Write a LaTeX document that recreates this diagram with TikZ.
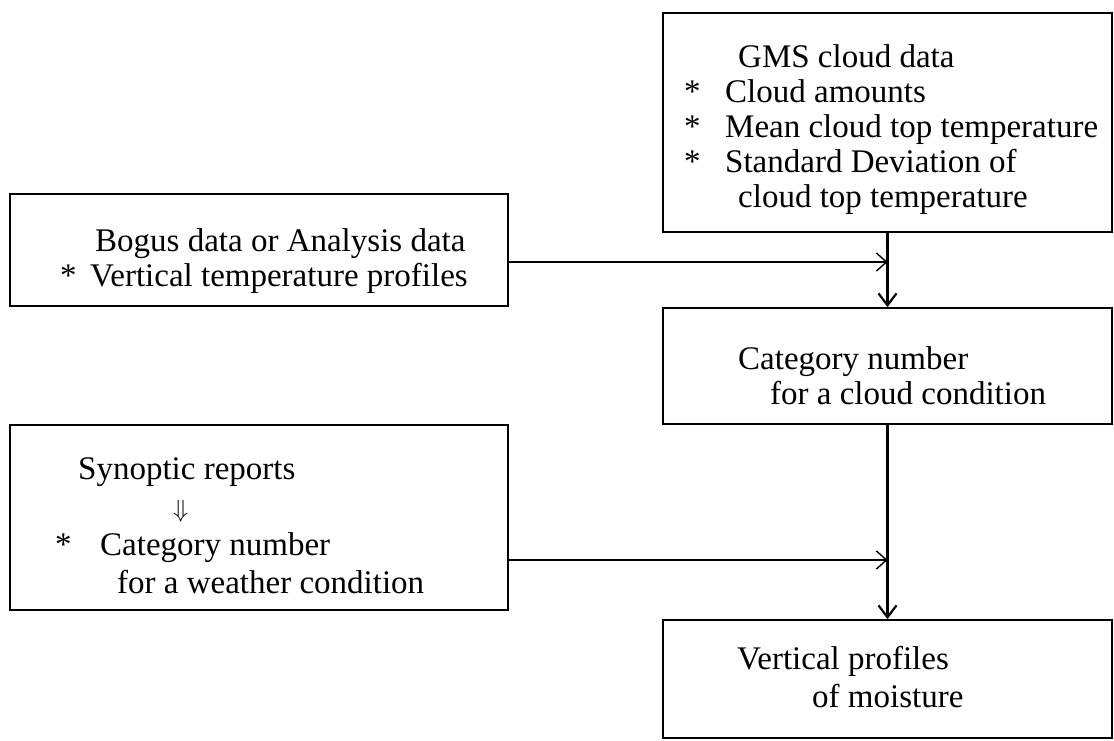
\documentclass[tikz,border=0pt]{standalone}
\usepackage{fontspec}
\setmainfont{Liberation Serif}
\usetikzlibrary{arrows.meta}

\begin{document}
\begin{tikzpicture}[x=1pt,y=-1pt,font=\fontsize{33}{35}\selectfont,
  box/.style={draw,line width=1.6pt,inner sep=0pt},
  txt/.style={anchor=north west,align=left,inner sep=0pt},
  feed/.style={line width=1.4pt,->,>={Straight Barb[length=10pt,width=18pt]}},
  flow/.style={line width=2.2pt,->,>={Straight Barb[length=12pt,width=18pt]}}]

\def\st#1{\makebox[#1pt][l]{*}}

\useasboundingbox (0,0) rectangle (1114,741);

% Right column
\node[box,minimum width=449pt,minimum height=219pt] (gms) at (887.5,122.5) {};
\node[box,minimum width=449pt,minimum height=116pt] (cat) at (887.5,366) {};
\node[box,minimum width=449pt,minimum height=118pt] (vp) at (887.5,679) {};

% Left column
\node[box,minimum width=498pt,minimum height=112pt] (bogus) at (259,250) {};
\node[box,minimum width=498pt,minimum height=185pt] (syn) at (259,517.5) {};

% Texts
\node[txt] (gmstxt) at (684,44)
{\hspace*{54pt}GMS cloud data\\
\st{41}Cloud amounts\\
\st{41}Mean cloud top temperature\\
\st{41}Standard Deviation of\\
\hspace*{54pt}cloud top temperature};

\node[txt] (cattxt) at (738,346)
{Category number\\
\hspace*{32pt}for a cloud condition};

\node[txt] (vptxt) at (737,646)
{Vertical profiles\\[3pt]
\hspace*{75pt}of moisture};

\node[txt] (bogustxt) at (60,228)
{\hspace*{35pt}Bogus data or Analysis data\\
\st{30}Vertical temperature profiles};

\node[txt] (syntxt) at (55,457)
{\hspace*{23pt}Synoptic reports\\[3pt]
\hspace*{118pt}$\Downarrow$\\[3pt]
\st{45}Category number\\[3pt]
\hspace*{62pt}for a weather condition};

% Flow
\draw[flow] (gms.south) -- (cat.north);
\draw[flow] (cat.south) -- (vp.north);

% Inputs
\coordinate (j1) at (887.5,262);
\coordinate (j2) at (887.5,560);
\draw[feed] (bogus.east |- j1) -- (j1);
\draw[feed] (syn.east |- j2) -- (j2);

\end{tikzpicture}
\end{document}
